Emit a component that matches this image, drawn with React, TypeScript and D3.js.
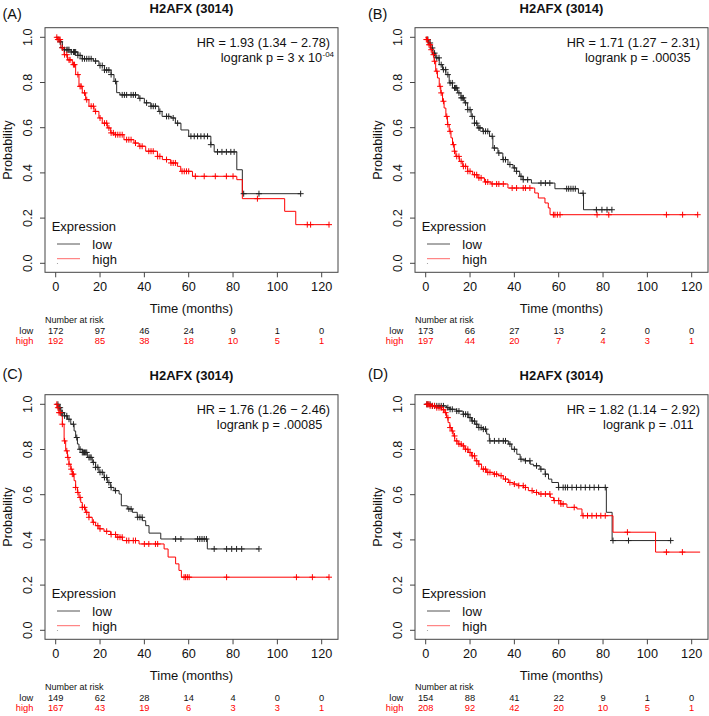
import React from 'react';
import * as d3 from 'd3';

type Pt = [number, number];

const timeTicks = [0, 20, 40, 60, 80, 100, 120];
const probTicks = [0, 0.2, 0.4, 0.6, 0.8, 1.0];
const panelLabels = ['(A)', '(B)', '(C)', '(D)'];
const titleText = 'H2AFX (3014)';
const hrTexts = ['HR = 1.93 (1.34 \u2212 2.78)', 'HR = 1.71 (1.27 \u2212 2.31)', 'HR = 1.76 (1.26 \u2212 2.46)', 'HR = 1.82 (1.14 \u2212 2.92)'];
const pTexts = ['logrank p = 3 x 10', 'logrank p = .00035', 'logrank p = .00085', 'logrank p = .011'];
const pSups = ['-04', '', '', ''];
const groupNames = ['low', 'high'];

const riskLowA = [172, 97, 46, 24, 9, 1, 0];
const riskHighA = [192, 85, 38, 18, 10, 5, 1];
const riskLowB = [173, 66, 27, 13, 2, 0, 0];
const riskHighB = [197, 44, 20, 7, 4, 3, 1];
const riskLowC = [149, 62, 28, 14, 4, 0, 0];
const riskHighC = [167, 43, 19, 6, 3, 3, 1];
const riskLowD = [154, 88, 41, 22, 9, 1, 0];
const riskHighD = [208, 92, 42, 20, 10, 5, 1];

const lowStepsA: Pt[] = [[0,1],[1.5,0.98],[3,0.955],[4,0.945],[7,0.935],[10,0.92],[12,0.905],[17,0.895],[19.5,0.875],[22,0.855],[25,0.835],[26.3,0.805],[27.5,0.755],[29,0.745],[37.5,0.73],[40,0.71],[43,0.695],[46.5,0.672],[48,0.65],[52,0.643],[54,0.62],[56.5,0.59],[60,0.562],[70,0.525],[71.5,0.493],[81.7,0.414],[84.2,0.308]];
const lowEndA = 110.5;
const lowCensA = [2,3,4,5,5.5,6,7,8,8.5,9,10,11,12,13,14,15,16,18,20,21,22,23,24,25,27,30,31,32,34,35,36,38,41,43,44,45,47,50,51,53,55,61,62.5,64,65.5,67,68.5,70,73,75,77,79,80.5,84.8,91.7,110.5];
const highStepsA: Pt[] = [[0,1],[0.75,0.99],[2.3,0.953],[3.8,0.923],[5.3,0.9],[7.5,0.879],[9,0.835],[10.5,0.783],[12,0.754],[13.5,0.724],[15,0.695],[17.3,0.672],[19.5,0.643],[21,0.62],[23.3,0.599],[24.8,0.577],[26.3,0.569],[30.8,0.547],[35.3,0.532],[37.6,0.518],[40.6,0.496],[45.9,0.473],[48.1,0.459],[51.9,0.444],[54.9,0.429],[56.4,0.407],[61.7,0.385],[81.7,0.37],[84.2,0.286],[103.3,0.23],[108.3,0.171]];
const highEndA = 123.3;
const highCensA = [0.5,1,1.5,2,3,4,5,6,6.5,8,8.5,10,11,11.5,13,14,16,17,18,20,22,23,24,25,26,27,28,29,30,32,33,34,36,38,39,42,43,44,46,47,50,52,53,54,57,58,59,60,63,67,72,77,80,91,113.5,115,123.3];

const lowStepsB: Pt[] = [[0,1],[0.8,0.99],[1.5,0.975],[2.3,0.953],[3.3,0.93],[4.5,0.909],[6.1,0.879],[7.6,0.857],[9.1,0.835],[10.6,0.798],[12.1,0.776],[14.4,0.754],[15.9,0.732],[17.4,0.71],[18.9,0.68],[20.5,0.65],[22,0.62],[23.5,0.599],[25.8,0.584],[28.8,0.562],[30.3,0.51],[32.6,0.488],[34.8,0.459],[37.1,0.437],[39.4,0.422],[40.9,0.407],[42.4,0.385],[43.9,0.37],[47.7,0.355],[58.3,0.33],[68.9,0.31],[71.2,0.237]];
const lowEndB = 84;
const lowCensB = [1,2,3,4,5,6,7,8,9,10,11,12,13,13.5,14,15,16,16.5,17,18,19,20,21,22,23,24,24.5,26,27,28,30,31,33,35,36,38,40,41,43,44,46,52,54,56,63.6,64.5,65.5,66.5,67.5,71,77,79.5,81.8,84];
const highStepsB: Pt[] = [[0,1],[0.3,0.99],[1.2,0.967],[2.3,0.945],[3,0.923],[3.8,0.894],[4.5,0.85],[5.3,0.82],[6.1,0.783],[6.8,0.754],[7.6,0.717],[8.3,0.687],[9.1,0.65],[9.8,0.614],[10.6,0.584],[11.4,0.555],[12.1,0.525],[12.9,0.496],[13.6,0.473],[15.2,0.451],[16.7,0.429],[18.9,0.407],[21.2,0.392],[23.5,0.378],[26.5,0.36],[29.5,0.351],[37.1,0.333],[49.2,0.311],[50.8,0.289],[53.8,0.267],[55.3,0.245],[56.1,0.215]];
const highEndB = 122.7;
const highCensB = [0.3,0.8,1.5,2,2.5,3.5,4,5,6.5,7,8,9.5,10,11,12.5,13,14,15,16,17,18,19,20,22,23,24,25,27,28,30,32,33,35,39,41,44,45,47,57.6,58.3,59.4,60.6,77.3,82.6,108.6,115.9,122.7];

const lowStepsC: Pt[] = [[0,1],[1.5,0.985],[2.3,0.963],[3.8,0.949],[5.3,0.934],[6.8,0.912],[8.3,0.882],[9,0.853],[9.8,0.824],[10.5,0.801],[12,0.787],[14.3,0.765],[16.5,0.743],[18,0.721],[19.5,0.699],[21.8,0.676],[23.3,0.654],[24.8,0.632],[26.3,0.618],[28.6,0.603],[29.6,0.551],[32.3,0.537],[34.6,0.522],[36.8,0.5],[39.1,0.485],[40.6,0.463],[42.1,0.43],[47.4,0.404],[68.4,0.36]];
const lowEndC = 91.7;
const lowCensC = [1,1.5,2,2.5,3,4,5,6,8,9.5,11,12,12.5,13,13.5,14,15,15.5,16,17,18,19,20,21,22,23,24,25,27,33,34,37,38,39,54.1,56.5,64,65,66,67,68,71.5,77.1,79.4,81.6,83.9,91.7];
const highStepsC: Pt[] = [[0,1],[0.75,0.985],[1.5,0.963],[2.3,0.949],[3,0.912],[3.8,0.838],[4.5,0.794],[5.3,0.765],[6,0.735],[6.8,0.713],[7.5,0.691],[8.3,0.662],[9,0.632],[9.8,0.61],[10.5,0.588],[11.3,0.566],[12,0.544],[13.5,0.522],[15,0.5],[16.5,0.478],[18,0.463],[19.5,0.449],[21.8,0.438],[24.8,0.424],[27.1,0.412],[30.1,0.397],[37.6,0.382],[48.9,0.36],[50.7,0.324],[54.1,0.294],[55.6,0.265],[56.7,0.235]];
const highEndC = 123.3;
const highCensC = [0.5,1,1.5,2,3,4,5,5.5,6,7,7.5,8,9,10,11,12,13,14,15,17,19,20,23,25,27,28,29,30,32,33,35,36,40,42,45,46,57.9,58.6,59.4,60.2,77.1,108.6,115.8,123.3];

const lowStepsD: Pt[] = [[0,1],[3,0.993],[9.4,0.985],[10.9,0.978],[13.9,0.97],[16.9,0.956],[19.2,0.941],[20.7,0.926],[22.2,0.912],[23.7,0.897],[26,0.89],[27.5,0.868],[28.7,0.838],[37.3,0.824],[38.8,0.801],[41.1,0.779],[42.6,0.757],[44.8,0.75],[47.1,0.735],[48.6,0.728],[51.6,0.713],[53.9,0.691],[55.4,0.669],[56.9,0.654],[59.9,0.632],[81.5,0.522],[84.1,0.397]];
const lowEndD = 110.5;
const lowCensD = [0.5,1,2,3,4,5,6,7,8,10,11,12,14,15,17,18,19,20,21,22,23,24,25,26,27,29,31,33,35,36,38,40,43,45,47,50,52,54,60,62,63,64,66,68,70,72,74,76,78,81,84.5,91.5,110.5];
const highStepsD: Pt[] = [[0,1],[1.8,0.993],[4.8,0.985],[7.1,0.976],[8.6,0.963],[9.4,0.941],[10.1,0.919],[10.9,0.897],[11.6,0.882],[12.4,0.86],[13.1,0.838],[14.6,0.824],[16.2,0.816],[17.7,0.801],[19.2,0.787],[20.7,0.772],[22.2,0.75],[23.7,0.735],[25.2,0.713],[27.5,0.699],[30.5,0.691],[32.8,0.684],[35,0.669],[37.3,0.654],[39.5,0.647],[41.8,0.64],[44.1,0.632],[46.3,0.618],[48.6,0.61],[50.9,0.603],[56.2,0.588],[57.7,0.574],[60.7,0.559],[63.7,0.544],[68.2,0.537],[70.5,0.507],[84.5,0.434],[103.7,0.346]];
const highEndD = 123.8;
const highCensD = [0.5,1,1.5,2,3,4,5,6,7,8,9,10,11,12,13,14,15,16,17,18,19,20,21,22,23,24,26,27,28,29,31,32,34,36,38,40,42,44,45,48,50,52,54,56,58,60,61,62,67,71,73,75,77,79,81,91,108.6,115.8];

const FONT = '"Liberation Sans", Arial, Helvetica, sans-serif';
const BLACK_LINE = '#2a2a2a';
const RED = '#ff0000';

const panels = [
  { low: lowStepsA, lowEnd: lowEndA, lowC: lowCensA, high: highStepsA, highEnd: highEndA, highC: highCensA, rl: riskLowA, rh: riskHighA, pRight: 330 },
  { low: lowStepsB, lowEnd: lowEndB, lowC: lowCensB, high: highStepsB, highEnd: highEndB, highC: highCensB, rl: riskLowB, rh: riskHighB, pRight: 320.5 },
  { low: lowStepsC, lowEnd: lowEndC, lowC: lowCensC, high: highStepsC, highEnd: highEndC, highC: highCensC, rl: riskLowC, rh: riskHighC, pRight: 322.3 },
  { low: lowStepsD, lowEnd: lowEndD, lowC: lowCensD, high: highStepsD, highEnd: highEndD, highC: highCensD, rl: riskLowD, rh: riskHighD, pRight: 323.5 },
];

function survAt(steps: Pt[], t: number): number {
  let s = 1;
  for (const [ti, si] of steps) {
    if (ti <= t) s = si; else break;
  }
  return s;
}

function Panel({ i }: { i: number }) {
  const p = panels[i];
  const col = i % 2;
  const row = Math.floor(i / 2);
  const dx = col * 370;
  const dy = row * 367;
  const boxL = 45 + dx, boxR = 338 + dx, boxT = 27.7 + dy, boxB = 272.3 + dy;
  const x = d3.scaleLinear().domain([0, 120]).range([55.7 + dx, 321.7 + dx]);
  const y = d3.scaleLinear().domain([0, 1]).range([263.3 + dy, 37.3 + dy]);
  const line = d3.line<Pt>().x(d => x(d[0])).y(d => y(d[1])).curve(d3.curveStepAfter);
  const lowPts: Pt[] = [...p.low, [p.lowEnd, p.low[p.low.length - 1][1]]];
  const highPts: Pt[] = [...p.high, [p.highEnd, p.high[p.high.length - 1][1]]];
  const cs = 3;
  const cross = (t: number, steps: Pt[], color: string, k: string) => {
    const cx = x(t), cy = y(survAt(steps, t));
    return <path key={k} d={`M${cx - cs},${cy}H${cx + cs}M${cx},${cy - cs}V${cy + cs}`} stroke={color} strokeWidth={1} fill="none" />;
  };
  const cx = (boxL + boxR) / 2;
  const labelX = col === 0 ? 2.5 : 368;
  const labelY = row === 0 ? 19 : 379;
  return (
    <g fontFamily={FONT}>
      <text x={labelX} y={labelY} fontSize={14.5} fill="#111">{panelLabels[i]}</text>
      <text x={cx} y={12.8 + dy} fontSize={13} fontWeight="bold" textAnchor="middle" fill="#111">{titleText}</text>
      <rect x={boxL} y={boxT} width={boxR - boxL} height={boxB - boxT} fill="none" stroke="#444" strokeWidth={1} />
      {probTicks.map(v => (
        <g key={'y' + v}>
          <line x1={boxL} x2={boxL - 5} y1={y(v)} y2={y(v)} stroke="#444" />
          <text transform={`translate(${28.3 + dx},${y(v)}) rotate(-90)`} fontSize={12.7} textAnchor="middle" dominantBaseline="central" fill="#111">{v.toFixed(1)}</text>
        </g>
      ))}
      <text transform={`translate(${7.5 + dx},${(boxT + boxB) / 2}) rotate(-90)`} fontSize={12.7} textAnchor="middle" dominantBaseline="central" fill="#111">Probability</text>
      {timeTicks.map(v => (
        <g key={'x' + v}>
          <line x1={x(v)} x2={x(v)} y1={boxB} y2={boxB + 5} stroke="#444" />
          <text x={x(v)} y={287.3 + dy} fontSize={12.7} textAnchor="middle" dominantBaseline="central" fill="#111">{v}</text>
        </g>
      ))}
      <text x={cx} y={308.3 + dy} fontSize={13} textAnchor="middle" dominantBaseline="central" fill="#111">Time (months)</text>
      <path d={line(lowPts) || ''} fill="none" stroke={BLACK_LINE} strokeWidth={1} />
      <path d={line(highPts) || ''} fill="none" stroke={RED} strokeWidth={1} />
      {p.lowC.map((t, k) => cross(t, p.low, '#222', 'lc' + k))}
      {p.highC.map((t, k) => cross(t, p.high, RED, 'hc' + k))}
      <text x={330 + dx} y={46.5 + dy} fontSize={12.7} textAnchor="end" fill="#111">{hrTexts[i]}</text>
      <text x={(pSups[i] ? 322 : p.pRight) + dx} y={62 + dy} fontSize={12.7} textAnchor="end" fill="#111">{pTexts[i]}</text>
      {pSups[i] ? <text x={322.5 + dx} y={57 + dy} fontSize={8} textAnchor="start" fill="#111">{pSups[i]}</text> : null}
      <text x={51.7 + dx} y={226 + dy} fontSize={13} dominantBaseline="central" fill="#111">Expression</text>
      <line x1={57 + dx} x2={80 + dx} y1={244 + dy} y2={244 + dy} stroke="#555" strokeWidth={1} />
      <line x1={57 + dx} x2={80 + dx} y1={258.7 + dy} y2={258.7 + dy} stroke="#ff6a6a" strokeWidth={1} />
      <text x={92.3 + dx} y={244.3 + dy} fontSize={13} dominantBaseline="central" fill="#111">{groupNames[0]}</text>
      <text x={92.3 + dx} y={259 + dy} fontSize={13} dominantBaseline="central" fill="#111">{groupNames[1]}</text>
      <circle cx={57.5 + dx} cy={263.5 + dy} r={0.6} fill="#999" />
      <text x={45 + dx} y={320 + dy} fontSize={9} dominantBaseline="central" fill="#111">Number at risk</text>
      <text x={33.3 + dx} y={330.7 + dy} fontSize={9.3} textAnchor="end" dominantBaseline="central" fill="#111">{groupNames[0]}</text>
      <text x={33.3 + dx} y={341.3 + dy} fontSize={9.3} textAnchor="end" dominantBaseline="central" fill={RED}>{groupNames[1]}</text>
      {timeTicks.map((v, k) => (
        <g key={'r' + v}>
          <text x={x(v)} y={330.7 + dy} fontSize={9.3} textAnchor="middle" dominantBaseline="central" fill="#111">{p.rl[k]}</text>
          <text x={x(v)} y={341.3 + dy} fontSize={9.3} textAnchor="middle" dominantBaseline="central" fill={RED}>{p.rh[k]}</text>
        </g>
      ))}
    </g>
  );
}

export default function App() {
  return (
    <svg width={709} height={716} style={{ position: 'absolute', left: 0, top: 0, background: '#fff' }}>
      <rect x={0} y={0} width={709} height={716} fill="#fff" />
      {[0, 1, 2, 3].map(i => <Panel key={i} i={i} />)}
    </svg>
  );
}
